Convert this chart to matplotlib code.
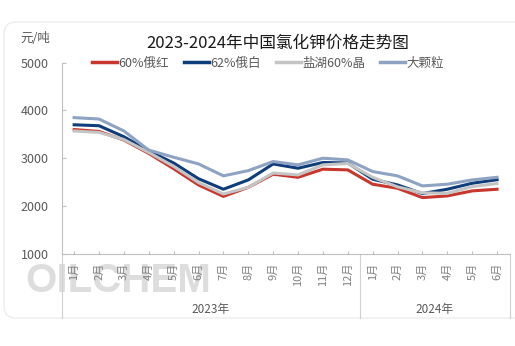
import matplotlib
matplotlib.use("Agg")
import matplotlib.pyplot as plt
from matplotlib.patches import FancyBboxPatch
from matplotlib.transforms import blended_transform_factory

plt.rcParams['font.family'] = ['Noto Sans CJK SC', 'DejaVu Sans']

# Monthly potassium chloride prices (元/吨), Jan 2023 – Jun 2024
months = ['1月', '2月', '3月', '4月', '5月', '6月', '7月', '8月', '9月', '10月', '11月', '12月',
          '1月', '2月', '3月', '4月', '5月', '6月']
years = ['2023年', '2024年']
months_per_year = [12, 6]

series_names = ['60%俄红', '62%俄白', '盐湖60%晶', '大颗粒']
red_60 = [3600, 3560, 3380, 3100, 2780, 2440, 2200, 2390, 2665, 2600, 2770, 2755,
          2455, 2370, 2175, 2210, 2315, 2350]
white_62 = [3700, 3680, 3450, 3150, 2900, 2570, 2350, 2545, 2880, 2790, 2910, 2900,
            2560, 2440, 2260, 2350, 2475, 2550]
salt_lake_60 = [3570, 3540, 3390, 3120, 2830, 2490, 2250, 2390, 2690, 2650, 2860, 2890,
                2600, 2400, 2275, 2265, 2405, 2470]
granular = [3850, 3820, 3570, 3170, 3020, 2880, 2630, 2740, 2930, 2860, 3000, 2965,
            2720, 2630, 2420, 2455, 2545, 2600]

colors = ['#C8372D', '#0F3D7A', '#C4C4C4', '#8EA2C2']
yticks = [1000, 2000, 3000, 4000, 5000]

fig = plt.figure(figsize=(5.15, 3.46), dpi=100)

# rounded card background
card = FancyBboxPatch((0.04, 0.28), 5.4, 2.96,
                      boxstyle="round,pad=0,rounding_size=0.12",
                      transform=fig.dpi_scale_trans, facecolor='white',
                      edgecolor='#E8E8E8', linewidth=0.8, zorder=0)
fig.patches.append(card)

ax = fig.add_axes([61.7 / 515, 1 - 253.7 / 346, (509.5 - 61.7) / 515, (253.7 - 62.7) / 346])
ax.set_facecolor('none')
ax.set_zorder(2)

x = list(range(len(months)))
for vals, name, c in zip([red_60, white_62, salt_lake_60, granular], series_names, colors):
    ax.plot(x, vals, color=c, lw=2.2, label=name, solid_joinstyle='round')

ax.set_xlim(-0.5, len(months) - 0.5)
ax.set_ylim(1000, 5000)
ax.set_yticks(yticks)
ax.set_xticks(x)
ax.set_xticklabels(months, rotation=90, va='top', ha='center')

for s in ['top', 'right']:
    ax.spines[s].set_visible(False)
for s in ['left', 'bottom']:
    ax.spines[s].set_color('#BFBFBF')
    ax.spines[s].set_linewidth(0.8)

ax.tick_params(axis='y', direction='in', length=3, width=0.8, color='#BFBFBF',
               labelsize=9, labelcolor='#595959', pad=9.5)
ax.tick_params(axis='x', direction='in', length=2, width=0.8, color='#BFBFBF',
               labelsize=8, labelcolor='#7F7F7F', pad=6.5)

# year group separators and labels below the month labels
trans = blended_transform_factory(ax.transData, ax.transAxes)
axis_h = 253.7 - 62.7
sep_bottom = -(318 - 253.7) / axis_h
start = -0.5
bounds = [start]
for n in months_per_year:
    start += n
    bounds.append(start)
for b in bounds:
    ax.plot([b, b], [0, sep_bottom], transform=trans, color='#D0D0D0', lw=0.8, clip_on=False)
for yr, a, b in zip(years, bounds[:-1], bounds[1:]):
    ax.text((a + b) / 2, -(310 - 253.7) / axis_h, yr, transform=trans, ha='center',
            va='center', fontsize=8.5, color='#595959')

# watermark
fig.text(25 / 515, 1 - 281 / 346, 'OILCHEM', fontsize=29, fontweight='bold',
         family=['Liberation Sans', 'DejaVu Sans'],
         color='#D8D8D8', alpha=0.85, ha='left', va='center', zorder=1)

fig.text(20 / 515, 1 - 38 / 346, '元/吨', fontsize=9, color='#595959', ha='left', va='center')
fig.text(278 / 515, 1 - 43 / 346, '2023-2024年中国氯化钾价格走势图', fontsize=12,
         color='#1A1A1A', ha='center', va='center')

leg = ax.legend(loc='center', bbox_to_anchor=(268 / 515, 1 - 63 / 346),
                bbox_transform=fig.transFigure, ncol=4, frameon=False,
                fontsize=9, handlelength=2.0, handletextpad=0.1, columnspacing=1.2)
for t in leg.get_texts():
    t.set_color('#595959')
for h in leg.get_lines():
    h.set_linewidth(2.5)

fig.savefig('out.png', dpi=100)
